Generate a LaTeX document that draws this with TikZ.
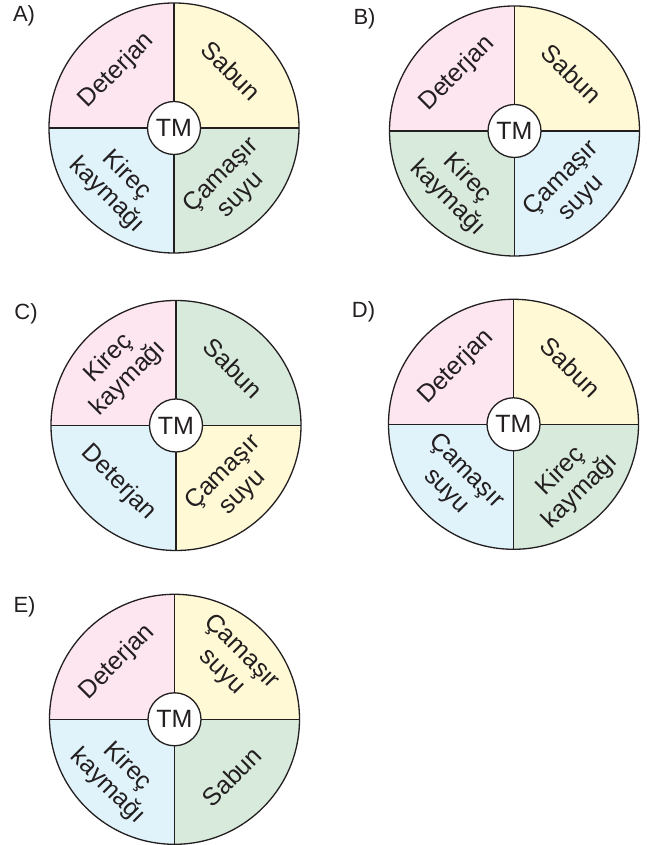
\documentclass[tikz,border=0pt]{standalone}
\usepackage{fontspec}
\setmainfont{Liberation Sans}
\usetikzlibrary{calc}
\definecolor{cpink}{HTML}{FDE6F0}
\definecolor{cyel}{HTML}{FFF9D6}
\definecolor{cblue}{HTML}{E0F3FB}
\definecolor{cgreen}{HTML}{D7EADC}
\definecolor{ink}{HTML}{231F20}
\tikzset{
  outline/.style={draw=ink, line width=1.3pt},
  spoke/.style={draw=ink, line width=1.2pt},
  tmnode/.style={circle, draw=ink, line width=1.3pt, fill=white, minimum size=53pt, inner sep=0pt, text=ink, font=\fontsize{25}{25}\selectfont},
  qtext/.style={align=center, font=\fontsize{25}{28}\selectfont, inner sep=0pt, text=ink},
  letter/.style={font=\fontsize{22}{22}\selectfont, text=ink, inner sep=0pt},
}
\newcommand\wheelR{125}
% id, x, y, label, colour TL, TR, BL, BR
\newcommand\wheel[8]{%
  \coordinate (#1) at (#2,#3);
  \fill[#5] (#1) -- ++(90:\wheelR pt) arc[start angle=90, delta angle=90, radius=\wheelR pt] -- cycle;
  \fill[#6] (#1) -- ++(0:\wheelR pt) arc[start angle=0, delta angle=90, radius=\wheelR pt] -- cycle;
  \fill[#7] (#1) -- ++(180:\wheelR pt) arc[start angle=180, delta angle=90, radius=\wheelR pt] -- cycle;
  \fill[#8] (#1) -- ++(270:\wheelR pt) arc[start angle=270, delta angle=90, radius=\wheelR pt] -- cycle;
  \coordinate (#1n) at ($(#1)+(0,\wheelR pt)$);
  \coordinate (#1s) at ($(#1)+(0,-\wheelR pt)$);
  \coordinate (#1w) at ($(#1)+(-\wheelR pt,0)$);
  \coordinate (#1e) at ($(#1)+(\wheelR pt,0)$);
  \draw[spoke] (#1n) -- (#1s);
  \draw[spoke] (#1w) -- (#1e);
  \draw[outline] (#1) circle[radius=\wheelR pt];
  \node[tmnode] (#1tm) at (#1) {TM};
  \node[letter] (#1lab) at ($(#1)+(-150pt,112pt)$) {#4};
}
% id, text TL, TR, BL, BR
\newcommand\wheeltexts[5]{%
  \node[qtext, rotate=45] (#1tl) at ($(#1)+(135:81pt)$) {#2};
  \node[qtext, rotate=-45] (#1tr) at ($(#1)+(45:81pt)$) {#3};
  \node[qtext, rotate=-45] (#1bl) at ($(#1)+(225:81pt)$) {#4};
  \node[qtext, rotate=45] (#1br) at ($(#1)+(315:81pt)$) {#5};
}
\begin{document}
\begin{tikzpicture}[x=1pt, y=1pt]
\useasboundingbox (0,0) rectangle (647,845);
\fill[white] (0,0) rectangle (647,845);
\wheel{A}{174}{717}{A)}{cpink}{cyel}{cblue}{cgreen}
\wheeltexts{A}{Deterjan}{Sabun}{Kireç\\kaymağı}{Çamaşır\\suyu}
\wheel{B}{514.5}{714}{B)}{cpink}{cyel}{cgreen}{cblue}
\wheeltexts{B}{Deterjan}{Sabun}{Kireç\\kaymağı}{Çamaşır\\suyu}
\wheel{C}{176}{419.5}{C)}{cpink}{cgreen}{cblue}{cyel}
\wheeltexts{C}{Kireç\\kaymağı}{Sabun}{Deterjan}{Çamaşır\\suyu}
\wheel{D}{513.5}{420.7}{D)}{cpink}{cyel}{cblue}{cgreen}
\wheeltexts{D}{Deterjan}{Sabun}{Çamaşır\\suyu}{Kireç\\kaymağı}
\wheel{E}{174.5}{125.7}{E)}{cpink}{cyel}{cblue}{cgreen}
\wheeltexts{E}{Deterjan}{Çamaşır\\suyu}{Kireç\\kaymağı}{Sabun}
\end{tikzpicture}
\end{document}
